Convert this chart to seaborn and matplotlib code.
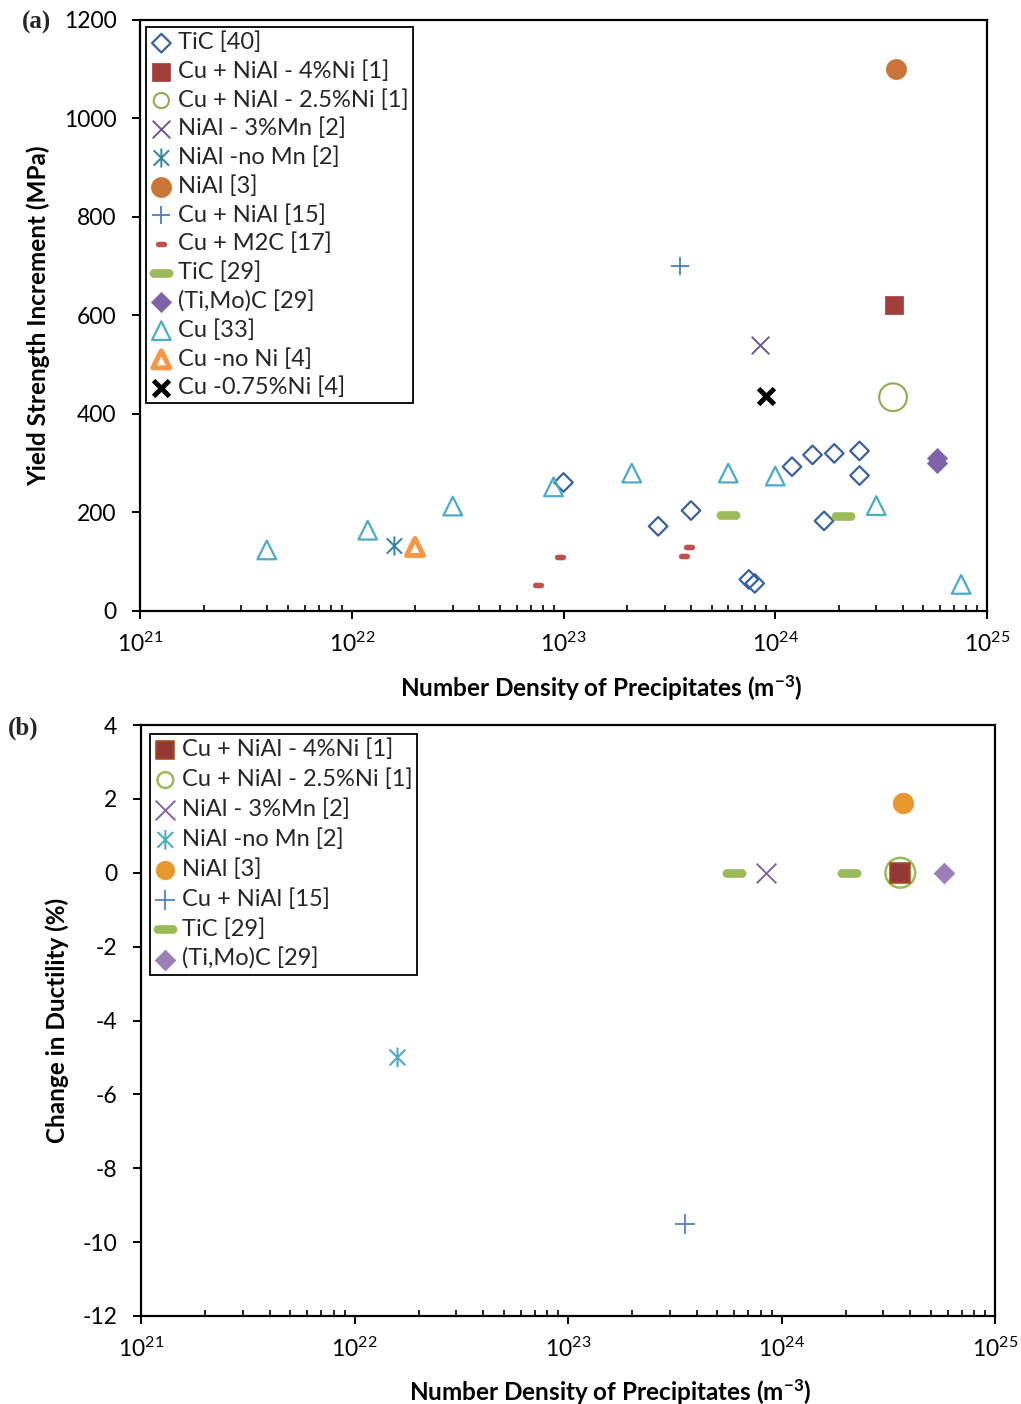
import numpy as np
import matplotlib
matplotlib.use("Agg")
import matplotlib.pyplot as plt
from matplotlib.path import Path
from matplotlib.ticker import LogLocator, FixedLocator, NullFormatter, FuncFormatter
import seaborn as sns

# ---------------- data : panel (a) yield strength increment (MPa) ----------------
tic40_x = [1.0e23, 2.8e23, 4.0e23, 7.5e23, 8.0e23, 1.2e24, 1.5e24, 1.9e24, 2.5e24, 2.5e24, 1.7e24]
tic40_y = [261, 172, 204, 64, 56, 293, 317, 320, 325, 275, 183]
cu_nial_4ni_x = [3.65e24]
cu_nial_4ni_y = [621]
cu_nial_25ni_x = [3.6e24]
cu_nial_25ni_y = [434]
nial_3mn_x = [8.5e23]
nial_3mn_y = [540]
nial_nomn_x = [1.59e22]
nial_nomn_y = [132]
nial3_x = [3.72e24]
nial3_y = [1100]
cu_nial15_x = [3.56e23]
cu_nial15_y = [700]
cu_m2c_x = [7.56e22, 9.6e22, 3.7e23, 3.9e23]
cu_m2c_y = [52, 110, 112, 129]
tic29_x = [6.0e23, 2.08e24]
tic29_y = [195, 193]
timoc_x = [5.8e24, 5.8e24]
timoc_y = [311, 300]
cu33_x = [3.97e21, 1.19e22, 3.0e22, 8.97e22, 2.1e23, 6.0e23, 1.0e24, 3.0e24, 7.55e24]
cu33_y = [124, 164, 213, 252, 280, 280, 274, 214, 54]
cu_noni_x = [1.99e22]
cu_noni_y = [130]
cu_075ni_x = [9.06e23]
cu_075ni_y = [437]

# ---------------- data : panel (b) change in ductility (%) ----------------
b_cu_nial_4ni_x = [3.6e24]
b_cu_nial_4ni_y = [0]
b_cu_nial_25ni_x = [3.6e24]
b_cu_nial_25ni_y = [0]
b_nial_3mn_x = [8.5e23]
b_nial_3mn_y = [0]
b_nial_nomn_x = [1.59e22]
b_nial_nomn_y = [-5]
b_nial3_x = [3.69e24]
b_nial3_y = [1.9]
b_cu_nial15_x = [3.54e23]
b_cu_nial15_y = [-9.5]
b_tic29_x = [6.0e23, 2.06e24]
b_tic29_y = [0, 0]
b_timoc_x = [5.8e24]
b_timoc_y = [0]

yticks_a = [0, 200, 400, 600, 800, 1000, 1200]
yticks_b = [-12, -10, -8, -6, -4, -2, 0, 2, 4]

# ---------------- style ----------------
sns.set_theme(style="white")
plt.rcParams['font.family'] = ['Lato', 'DejaVu Sans']
plt.rcParams['mathtext.fontset'] = 'custom'
plt.rcParams['mathtext.rm'] = 'Lato'
plt.rcParams['mathtext.it'] = 'Lato:italic'
plt.rcParams['mathtext.bf'] = 'Lato:bold'
plt.rcParams['axes.unicode_minus'] = False
FS = 16.5
LFS = 17
AFS = 17.5


def asterisk_path():
    v = [(0, -1), (0, 1), (-0.8, -0.8), (0.8, 0.8), (-0.8, 0.8), (0.8, -0.8)]
    c = [Path.MOVETO, Path.LINETO] * 3
    return Path(v, c)


def dash_path(ratio):
    r = ratio / 2.0
    half = 0.5 - r
    t1 = np.linspace(np.pi / 2, -np.pi / 2, 12)
    t2 = np.linspace(-np.pi / 2, -3 * np.pi / 2, 12)
    right = [(half + r * np.cos(t), r * np.sin(t)) for t in t1]
    left = [(-half + r * np.cos(t), r * np.sin(t)) for t in t2]
    v = right + left + [right[0]]
    c = [Path.MOVETO] + [Path.LINETO] * (len(v) - 2) + [Path.CLOSEPOLY]
    return Path(v, c)


AST = asterisk_path()
DASH_G = dash_path(0.36)
DASH_R = dash_path(0.47)


def pts(ax, x, y, label, marker, s, fc, ec, lw, z=3):
    if marker in ('x', '+'):
        sns.scatterplot(x=x, y=y, ax=ax, marker=marker, s=s, color=ec,
                        linewidth=lw, label=label, zorder=z, legend=False)
    else:
        col = ec if fc == 'none' else fc
        sns.scatterplot(x=x, y=y, ax=ax, marker=marker, s=s, color=col,
                        facecolor=fc, edgecolor=ec, linewidth=lw,
                        label=label, zorder=z, legend=False)
    return ax.collections[-1]


fig = plt.figure(figsize=(10.21, 14.04), dpi=100)
W, H = 1021, 1404
axa = fig.add_axes([140 / W, 1 - 611 / H, (987 - 140) / W, (611 - 20) / H])
axb = fig.add_axes([141 / W, 1 - 1316 / H, (995 - 141) / W, (1316 - 725) / H])

# ---- panel (a) ----
ha = []
ha.append(pts(axa, tic40_x, tic40_y, 'TiC [40]', 'D', 90, 'none', '#3A62A0', 1.6))
ha.append(pts(axa, cu_nial_4ni_x, cu_nial_4ni_y, 'Cu + NiAl - 4%Ni [1]', 's', 175, '#A03F3C', '#A03F3C', 0.5))
ha.append(pts(axa, cu_nial_25ni_x, cu_nial_25ni_y, 'Cu + NiAl - 2.5%Ni [1]', 'o', 400, 'none', '#8DAE4E', 1.5))
ha.append(pts(axa, nial_3mn_x, nial_3mn_y, 'NiAl - 3%Mn [2]', 'x', 160, 'none', '#6E5693', 1.4))
ha.append(pts(axa, nial_nomn_x, nial_nomn_y, 'NiAl -no Mn [2]', AST, 190, 'none', '#31849B', 1.4))
ha.append(pts(axa, nial3_x, nial3_y, 'NiAl [3]', 'o', 210, '#CB7636', '#CB7636', 0.5))
ha.append(pts(axa, cu_nial15_x, cu_nial15_y, 'Cu + NiAl [15]', '+', 180, 'none', '#4A7EC0', 1.3))
ha.append(pts(axa, cu_m2c_x, cu_m2c_y, 'Cu + M2C [17]', DASH_R, 60, '#C0504D', '#C0504D', 0.3))
ha.append(pts(axa, tic29_x, tic29_y, 'TiC [29]', DASH_G, 280, '#9BBB59', '#9BBB59', 0.3))
ha.append(pts(axa, timoc_x, timoc_y, '(Ti,Mo)C [29]', 'D', 105, '#7F62A8', '#7F62A8', 0.5))
ha.append(pts(axa, cu33_x, cu33_y, 'Cu [33]', '^', 180, 'none', '#4BACC6', 1.6))
ha.append(pts(axa, cu_noni_x, cu_noni_y, 'Cu -no Ni [4]', '^', 150, 'none', '#F79646', 3.6))
ha.append(pts(axa, cu_075ni_x, cu_075ni_y, 'Cu -0.75%Ni [4]', 'x', 130, 'none', '#000000', 3.5))

# ---- panel (b) ----
c25 = pts(axb, b_cu_nial_25ni_x, b_cu_nial_25ni_y, 'Cu + NiAl - 2.5%Ni [1]', 'o', 460, 'none', '#9BBB59', 1.8, z=3)
c4 = pts(axb, b_cu_nial_4ni_x, b_cu_nial_4ni_y, 'Cu + NiAl - 4%Ni [1]', 's', 190, '#953735', '#A0521C', 1.2, z=4)
hb = [c4, c25]
hb.append(pts(axb, b_nial_3mn_x, b_nial_3mn_y, 'NiAl - 3%Mn [2]', 'x', 200, 'none', '#8064A2', 1.4))
hb.append(pts(axb, b_nial_nomn_x, b_nial_nomn_y, 'NiAl -no Mn [2]', AST, 200, 'none', '#4BACC6', 1.5))
hb.append(pts(axb, b_nial3_x, b_nial3_y, 'NiAl [3]', 'o', 220, '#E8972D', '#E8972D', 0.5))
hb.append(pts(axb, b_cu_nial15_x, b_cu_nial15_y, 'Cu + NiAl [15]', '+', 190, 'none', '#4F81BD', 1.3))
hb.append(pts(axb, b_tic29_x, b_tic29_y, 'TiC [29]', DASH_G, 280, '#9BBB59', '#9BBB59', 0.3))
hb.append(pts(axb, b_timoc_x, b_timoc_y, '(Ti,Mo)C [29]', 'D', 112, '#9A80B6', '#9A80B6', 0.5))


def sci_fmt(v, pos):
    e = int(round(np.log10(v)))
    return r'$\mathregular{10^{%d}}$' % e


for ax in (axa, axb):
    ax.set_xscale('log')
    ax.set_xlim(1e21, 1e25)
    ax.xaxis.set_major_locator(LogLocator(base=10, numticks=10))
    ax.xaxis.set_minor_locator(LogLocator(base=10, subs=np.arange(2, 10), numticks=20))
    ax.xaxis.set_major_formatter(FuncFormatter(sci_fmt))
    ax.xaxis.set_minor_formatter(NullFormatter())
    for sp in ax.spines.values():
        sp.set_visible(True)
        sp.set_color('black')
        sp.set_linewidth(1.6)
    ax.tick_params(axis='both', which='major', direction='out', length=6, width=1.4,
                   color='black', labelsize=FS, labelcolor='black', pad=11,
                   bottom=True, left=True, top=False, right=False)
    ax.tick_params(axis='x', which='major', pad=9)
    ax.tick_params(axis='x', which='minor', direction='in', length=4.5, width=1.2,
                   color='black', bottom=True, top=False)
    ax.grid(False)
    ax.set_facecolor('white')

axa.set_ylim(0, 1200)
axa.yaxis.set_major_locator(FixedLocator(yticks_a))
axb.set_ylim(-12, 4)
axb.yaxis.set_major_locator(FixedLocator(yticks_b))

xl = r'Number Density of Precipitates (m$^{\mathbf{-3}}$)'
axa.set_xlabel(xl, fontsize=AFS, fontweight='bold', color='black')
axb.set_xlabel(xl, fontsize=AFS, fontweight='bold', color='black')
axa.set_ylabel('Yield Strength Increment (MPa)', fontsize=AFS, fontweight='bold', color='black', labelpad=10)
axb.set_ylabel('Change in Ductility (%)', fontsize=AFS, fontweight='bold', color='black', labelpad=10)
axa.xaxis.set_label_coords((601 - 140) / (987 - 140), -0.105)
axb.xaxis.set_label_coords((610 - 141) / (995 - 141), -0.103)

lega = axa.legend(handles=ha, labels=[h.get_label() for h in ha], loc='upper left',
                  bbox_to_anchor=(146 / W, 1 - 27 / H), bbox_transform=fig.transFigure,
                  borderaxespad=0, fontsize=LFS, frameon=True, fancybox=False,
                  edgecolor='black', framealpha=1, handlelength=0.9, handletextpad=0.25,
                  labelspacing=0.30, borderpad=0.2)
lega.get_frame().set_linewidth(1.3)
lega.legend_handles[2].set_sizes([120])

legb = axb.legend(handles=hb, labels=[h.get_label() for h in hb], loc='upper left',
                  bbox_to_anchor=(150 / W, 1 - 734 / H), bbox_transform=fig.transFigure,
                  borderaxespad=0, fontsize=LFS, frameon=True, fancybox=False,
                  edgecolor='black', framealpha=1, handlelength=0.9, handletextpad=0.25,
                  labelspacing=0.35, borderpad=0.2)
legb.get_frame().set_linewidth(1.3)
legb.legend_handles[0].set_sizes([150])
legb.legend_handles[1].set_sizes([130])
legb.legend_handles[4].set_sizes([180])

fig.text(22 / W, 1 - 22 / H, '(a)', family=['Liberation Serif', 'DejaVu Serif'],
         fontweight='bold', fontsize=18, va='center', ha='left')
fig.text(8 / W, 1 - 728 / H, '(b)', family=['Liberation Serif', 'DejaVu Serif'],
         fontweight='bold', fontsize=18, va='center', ha='left')

fig.savefig('out.png', dpi=100, facecolor='white')
